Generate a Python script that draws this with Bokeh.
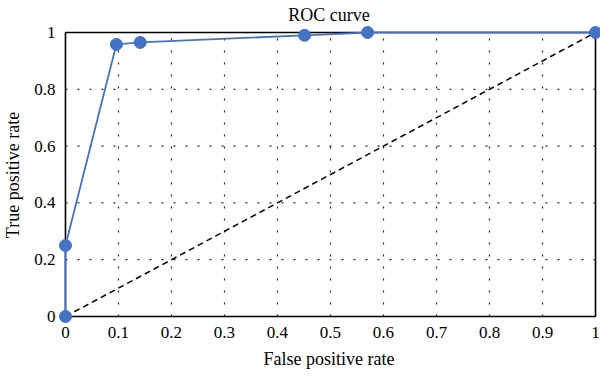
from bokeh.plotting import figure
from bokeh.models import Range1d, FixedTicker, CustomJSTickFormatter
from bokeh.embed import file_html
from bokeh.resources import INLINE

fpr = [0.0, 0.0, 0.096, 0.141, 0.451, 0.57, 1.0]
tpr = [0.0, 0.25, 0.958, 0.965, 0.99, 1.0, 1.0]
diag_x = [0.0, 1.0]
diag_y = [0.0, 1.0]
x_ticks = [0, 0.1, 0.2, 0.3, 0.4, 0.5, 0.6, 0.7, 0.8, 0.9, 1]
y_ticks = [0, 0.2, 0.4, 0.6, 0.8, 1]

FONT = "Liberation Serif"

# box (0..1) is 532 x 284 px; pad the frame so edge markers are not clipped
BOX_W, BOX_H = 532.0, 284.0
PL, PR, PT, PB = 8, 5, 7, 8

p = figure(width=600, height=378, output_backend="svg", toolbar_location=None,
           x_range=Range1d(-PL / BOX_W, 1 + PR / BOX_W),
           y_range=Range1d(-PB / BOX_H, 1 + PT / BOX_H),
           title="ROC curve",
           min_border_left=55, min_border_right=0,
           min_border_top=25, min_border_bottom=54)
p.outline_line_color = None
p.grid.visible = False

p.title.align = "center"
p.title.text_font = FONT
p.title.text_font_size = "18px"
p.title.text_font_style = "normal"
p.title.text_color = "black"
p.title.standoff = 2
p.title.offset = 0

fmt = CustomJSTickFormatter(code="return String(parseFloat(tick.toFixed(2)));")
for ax, ticks in ((p.xaxis[0], x_ticks), (p.yaxis[0], y_ticks)):
    ax.ticker = FixedTicker(ticks=ticks)
    ax.formatter = fmt
    ax.axis_line_color = None
    ax.major_tick_line_color = None
    ax.minor_tick_line_color = None
    ax.major_tick_out = 0
    ax.major_tick_in = 0
    ax.major_label_text_font = FONT
    ax.major_label_text_font_size = "17px"
    ax.major_label_text_color = "black"
    ax.axis_label_text_font = FONT
    ax.axis_label_text_font_size = "18px"
    ax.axis_label_text_font_style = "normal"
    ax.axis_label_text_color = "black"

p.xaxis.major_label_standoff = 2
p.yaxis.major_label_standoff = 2
p.xaxis.axis_label = "False positive rate"
p.yaxis.axis_label = "True positive rate"
p.xaxis.axis_label_standoff = 8
p.yaxis.axis_label_standoff = 8

# dotted grid inside the box
gx = x_ticks[1:-1]
gy = y_ticks[1:-1]
p.segment(x0=gx, y0=[0] * len(gx), x1=gx, y1=[1] * len(gx),
          line_color="black", line_dash="2 10", line_width=1.2, line_alpha=0.85)
p.segment(x0=[0] * len(gy), y0=gy, x1=[1] * len(gy), y1=gy,
          line_color="black", line_dash="2 10", line_width=1.2, line_alpha=0.85)

# plot box
p.quad(left=[0], right=[1], bottom=[0], top=[1], fill_color=None,
       line_color="black", line_width=1.6)

p.line(diag_x, diag_y, line_color="black", line_dash="6 4", line_width=1.5)
p.line(fpr, tpr, line_color="#4472C4", line_width=1.8)
p.scatter(fpr, tpr, size=12, fill_color="#4472C4", line_color="#4472C4")

p.background_fill_color = "white"
p.border_fill_color = "white"

open("out.html", "w").write(file_html(p, INLINE))
